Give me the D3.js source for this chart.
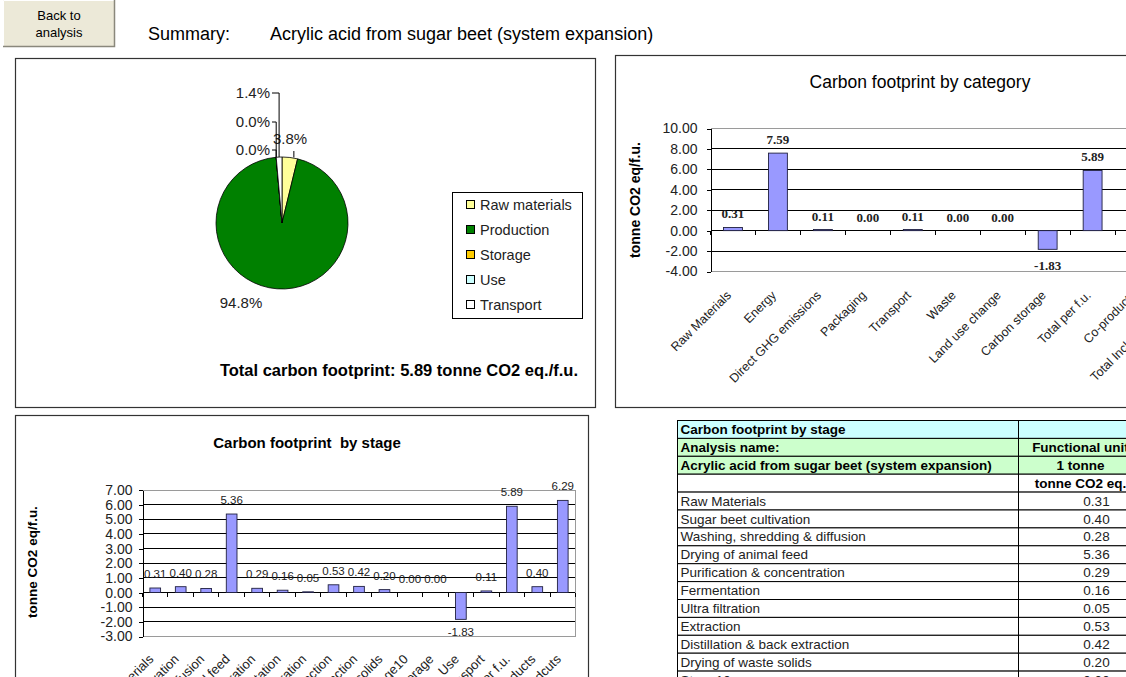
<!DOCTYPE html>
<html><head><meta charset="utf-8">
<script src="https://cdn.jsdelivr.net/npm/d3@7"></script>
<style>
html,body{margin:0;padding:0;background:#fff;overflow:hidden;}
svg{display:block;font-family:Arial,"Liberation Sans",sans-serif;}
text{white-space:pre;}
</style></head><body>
<svg id="c" width="1126" height="677"></svg>
<script>
// ---------------- DATA ----------------
const pageTitle = "Acrylic acid from sugar beet (system expansion)";
const pieLabels = ["Raw materials", "Production", "Storage", "Use", "Transport"];
const piePercents = [3.8, 94.8, 0.0, 0.0, 1.4];
const pieColors = ["#ffff99", "#008000", "#ffcc00", "#ccffff", "#ffffff"];
const totalFootprint = 5.89;

const categoryNames = ["Raw Materials", "Energy", "Direct GHG emissions", "Packaging", "Transport", "Waste",
  "Land use change", "Carbon storage", "Total per f.u.", "Co-products", "Total Incl. co-products"];
const categoryValues = [0.31, 7.59, 0.11, 0.00, 0.11, 0.00, 0.00, -1.83, 5.89, 0.40, 6.29];
const categoryTicks = [-4, -2, 0, 2, 4, 6, 8, 10];

const stageNames = ["Raw Materials", "Sugar beet cultivation", "Washing, shredding & diffusion", "Drying of animal feed",
  "Purification & concentration", "Fermentation", "Ultra filtration", "Extraction", "Distillation & back extraction",
  "Drying of waste solids", "Stage10", "Storage", "Use", "Transport", "Total per f.u.", "Co-products", "Total incl. co-prodcuts"];
const stageValues = [0.31, 0.40, 0.28, 5.36, 0.29, 0.16, 0.05, 0.53, 0.42, 0.20, 0.00, 0.00, -1.83, 0.11, 5.89, 0.40, 6.29];
const stageTicks = [-3, -2, -1, 0, 1, 2, 3, 4, 5, 6, 7];

const tableHeader = ["Carbon footprint by stage", "Analysis name:", pageTitle, ""];
const tableHeader2 = ["", "Functional unit", "1 tonne", "tonne CO2 eq."];

// ---------------- DRAW ----------------
const svg = d3.select("#c");
const f2 = v => (Math.abs(v) < 0.005 ? 0 : v).toFixed(2);
const pct = d => d.toFixed(1) + "%";

// Button
const btn = svg.append("g");
btn.append("rect").attr("x", 3).attr("y", 0).attr("width", 112).attr("height", 47).attr("fill", "#ece9d8");
btn.append("path").attr("d", "M3.5,47 V0.5 H115").attr("stroke", "#ffffff").attr("fill", "none");
btn.append("path").attr("d", "M3,46.5 H114.5 V0").attr("stroke", "#8a887c").attr("stroke-width", 1.5).attr("fill", "none");
btn.append("text").attr("x", 59).attr("y", 20).attr("text-anchor", "middle").attr("font-size", 13).text("Back to");
btn.append("text").attr("x", 59).attr("y", 37).attr("text-anchor", "middle").attr("font-size", 13).text("analysis");

svg.append("text").attr("x", 148).attr("y", 40).attr("font-size", 18).text("Summary:");
svg.append("text").attr("x", 270).attr("y", 40).attr("font-size", 18).text(pageTitle);

// ---------- Pie panel ----------
svg.append("rect").attr("x", 15.5).attr("y", 58.5).attr("width", 580).attr("height", 349)
  .attr("fill", "#fff").attr("stroke", "#333").attr("stroke-width", 1.2);

const cx = 282, cy = 223, r = 66;
const pie = d3.pie().sort(null).value(d => d)(piePercents);
const arc = d3.arc().innerRadius(0).outerRadius(r);
const pg = svg.append("g").attr("transform", `translate(${cx},${cy})`);
pg.selectAll("path").data(pie).join("path")
  .attr("d", arc).attr("fill", (d, i) => pieColors[i]).attr("stroke", "#000").attr("stroke-width", 0.8);

const edge = d => { const a = (d.startAngle + d.endAngle) / 2; return [cx + r * Math.sin(a), cy - r * Math.cos(a)]; };
const pieLabelPos = [
  { anchor: "start", x: 273, y: 144, ly: 151 },
  { anchor: "middle", x: 241, y: 308, ly: null },
  { anchor: "end", x: 270, y: 155, ly: 150 },
  { anchor: "end", x: 270, y: 127, ly: 122 },
  { anchor: "end", x: 270, y: 98, ly: 93 }
];
pie.forEach((d, i) => {
  const p = pieLabelPos[i], e = edge(d);
  if (p.ly !== null) {
    let path;
    if (p.anchor === "end") path = `M${p.x + 2},${p.ly} H${e[0]} V${e[1]}`;
    else path = `M${e[0] + 4},${p.ly} V${e[1]}`;
    svg.append("path").attr("d", path).attr("fill", "none").attr("stroke", "#000").attr("stroke-width", 1);
  }
  svg.append("text").attr("x", p.x).attr("y", p.y).attr("text-anchor", p.anchor)
    .attr("font-size", 15).attr("fill", "#222").text(pct(piePercents[i]));
});

// legend
const lg = svg.append("g");
lg.append("rect").attr("x", 452.5).attr("y", 192.5).attr("width", 130).attr("height", 126)
  .attr("fill", "#fff").attr("stroke", "#000");
pieLabels.forEach((name, i) => {
  const y = 205 + i * 25;
  lg.append("rect").attr("x", 466.5).attr("y", y - 4.5).attr("width", 8).attr("height", 8)
    .attr("fill", pieColors[i]).attr("stroke", "#000");
  lg.append("text").attr("x", 480).attr("y", y + 5).attr("font-size", 14.5).attr("fill", "#222").text(name);
});

svg.append("text").attr("x", 578).attr("y", 376).attr("text-anchor", "end").attr("font-size", 16.5)
  .attr("font-weight", "bold").text(`Total carbon footprint: ${f2(totalFootprint)} tonne CO2 eq./f.u.`);

// ---------- Generic bar chart ----------
function barChart(o) {
  const g = svg.append("g");
  const y = d3.scaleLinear().domain(o.domain).range([o.yBot, o.yTop]);
  const x = d3.scaleBand().domain(o.names).range([o.x0, o.x1]).paddingInner(0.58).paddingOuter(0.29);
  o.ticks.forEach(t => {
    const edgeLine = (t === o.domain[0] || t === o.domain[1]);
    g.append("line").attr("x1", o.x0).attr("x2", o.x1).attr("y1", y(t)).attr("y2", y(t))
      .attr("stroke", edgeLine ? "#9a9a9a" : "#000").attr("stroke-width", 1).attr("shape-rendering", "crispEdges");
  });
  g.append("line").attr("x1", o.x1).attr("x2", o.x1).attr("y1", o.yTop).attr("y2", o.yBot)
    .attr("stroke", "#9a9a9a").attr("shape-rendering", "crispEdges");
  const ax = g.append("g").attr("transform", `translate(${o.x0},0)`)
    .call(d3.axisLeft(y).tickValues(o.ticks).tickFormat(f2).tickSize(4).tickSizeOuter(0).tickPadding(o.tickPad));
  ax.select(".domain").attr("stroke", "#000").attr("shape-rendering", "crispEdges");
  ax.selectAll(".tick line").attr("stroke", "#000").attr("shape-rendering", "crispEdges");
  ax.selectAll("text").attr("font-size", o.tickFont).attr("font-family", "Arial, 'Liberation Sans', sans-serif").attr("fill", "#222");
  for (let i = 0; i <= o.names.length; i++) {
    const xx = o.x0 + i * x.step();
    g.append("line").attr("x1", xx).attr("x2", xx).attr("y1", y(0)).attr("y2", y(0) + 4)
      .attr("stroke", "#000").attr("shape-rendering", "crispEdges");
  }
  g.selectAll("rect.bar").data(o.values).join("rect").attr("class", "bar")
    .attr("x", (d, i) => x(o.names[i])).attr("width", x.bandwidth())
    .attr("y", d => Math.min(y(d), y(0))).attr("height", d => Math.abs(y(d) - y(0)))
    .attr("fill", "#9999ff").attr("stroke", "#202040").attr("stroke-width", 0.9);
  o.values.forEach((d, i) => {
    const xc = x(o.names[i]) + x.bandwidth() / 2;
    const yy = d >= 0 ? y(d) - o.labUp : y(d) + o.labDown;
    g.append("text").attr("x", xc).attr("y", yy).attr("text-anchor", "middle")
      .attr("font-size", o.labFont).attr("font-family", o.labFamily).attr("font-weight", o.labWeight)
      .attr("fill", "#222").text(f2(d));
  });
  o.names.forEach((n, i) => {
    const xc = x(n) + x.bandwidth() / 2 + o.xlabDx;
    g.append("text").attr("transform", `translate(${xc},${o.xlabY}) rotate(-45)`)
      .attr("text-anchor", "end").attr("font-size", o.xlabFont).attr("fill", "#222").text(n);
  });
  g.append("text").attr("transform", `translate(${o.yTitleX},${o.yTitleY}) rotate(-90)`)
    .attr("text-anchor", "middle").attr("font-size", o.yTitleFont).attr("font-weight", "bold").text("tonne CO2 eq/f.u.");
  g.append("text").attr("x", o.titleX).attr("y", o.titleY).attr("text-anchor", "middle")
    .attr("font-size", o.titleFont).attr("font-weight", o.titleWeight).text(o.title);
}

// ---------- Category panel ----------
svg.append("rect").attr("x", 615.5).attr("y", 55.5).attr("width", 600).attr("height", 352)
  .attr("fill", "#fff").attr("stroke", "#333").attr("stroke-width", 1.2);
barChart({
  names: categoryNames, values: categoryValues, ticks: categoryTicks, domain: [-4, 10],
  x0: 710.5, x1: 1205, yTop: 128.5, yBot: 271.5, tickPad: 9, tickFont: 14,
  labUp: 9, labDown: 21, labFont: 13, labFamily: "'Liberation Serif', 'Times New Roman', serif", labWeight: "bold",
  xlabDx: -1, xlabY: 296, xlabFont: 12.5,
  yTitleX: 640, yTitleY: 200, yTitleFont: 14,
  title: "Carbon footprint by category", titleX: 920, titleY: 88, titleFont: 17.5, titleWeight: "normal"
});

// ---------- Stage panel ----------
svg.append("rect").attr("x", 15.5).attr("y", 415.5).attr("width", 573).attr("height", 300)
  .attr("fill", "#fff").attr("stroke", "#333").attr("stroke-width", 1.2);
barChart({
  names: stageNames, values: stageValues, ticks: stageTicks, domain: [-3, 7],
  x0: 142.5, x1: 575.5, yTop: 490, yBot: 636.5, tickPad: 6, tickFont: 14,
  labUp: 10, labDown: 17, labFont: 11.5, labFamily: "Arial, 'Liberation Sans', sans-serif", labWeight: "normal",
  xlabDx: -1, xlabY: 660, xlabFont: 13,
  yTitleX: 37, yTitleY: 562, yTitleFont: 13.5,
  title: "Carbon footprint  by stage", titleX: 307, titleY: 448, titleFont: 15, titleWeight: "bold"
});

// ---------- Table ----------
const tX = 677.5, tY = 420.5, rowH = 17.9, c1 = 341, c2 = 150;
const tg = svg.append("g");
const nRows = tableHeader.length + stageNames.length;
const rowFill = i => i === 0 ? "#ccffff" : (i <= 2 ? "#ccffcc" : "#ffffff");
for (let i = 0; i < nRows; i++) {
  tg.append("rect").attr("x", tX).attr("y", tY + i * rowH).attr("width", c1 + c2).attr("height", rowH)
    .attr("fill", rowFill(i)).attr("stroke", "#000").attr("stroke-width", 1);
}
tg.append("line").attr("x1", tX + c1).attr("x2", tX + c1).attr("y1", tY).attr("y2", tY + nRows * rowH)
  .attr("stroke", "#000");
tableHeader.forEach((t, i) => {
  tg.append("text").attr("x", tX + 3).attr("y", tY + i * rowH + 13.5).attr("font-size", 13.5)
    .attr("font-weight", "bold").text(t);
  tg.append("text").attr("x", tX + c1 + 62).attr("y", tY + i * rowH + 13.5).attr("font-size", 13.5)
    .attr("font-weight", "bold").attr("text-anchor", "middle").text(tableHeader2[i]);
});
stageNames.forEach((n, j) => {
  const i = j + tableHeader.length;
  tg.append("text").attr("x", tX + 3).attr("y", tY + i * rowH + 13.5).attr("font-size", 13.5).attr("fill", "#222").text(n);
  tg.append("text").attr("x", tX + c1 + 78).attr("y", tY + i * rowH + 13.5).attr("font-size", 13.5)
    .attr("text-anchor", "middle").attr("fill", "#222").text(f2(stageValues[j]));
});
</script>
</body></html>
